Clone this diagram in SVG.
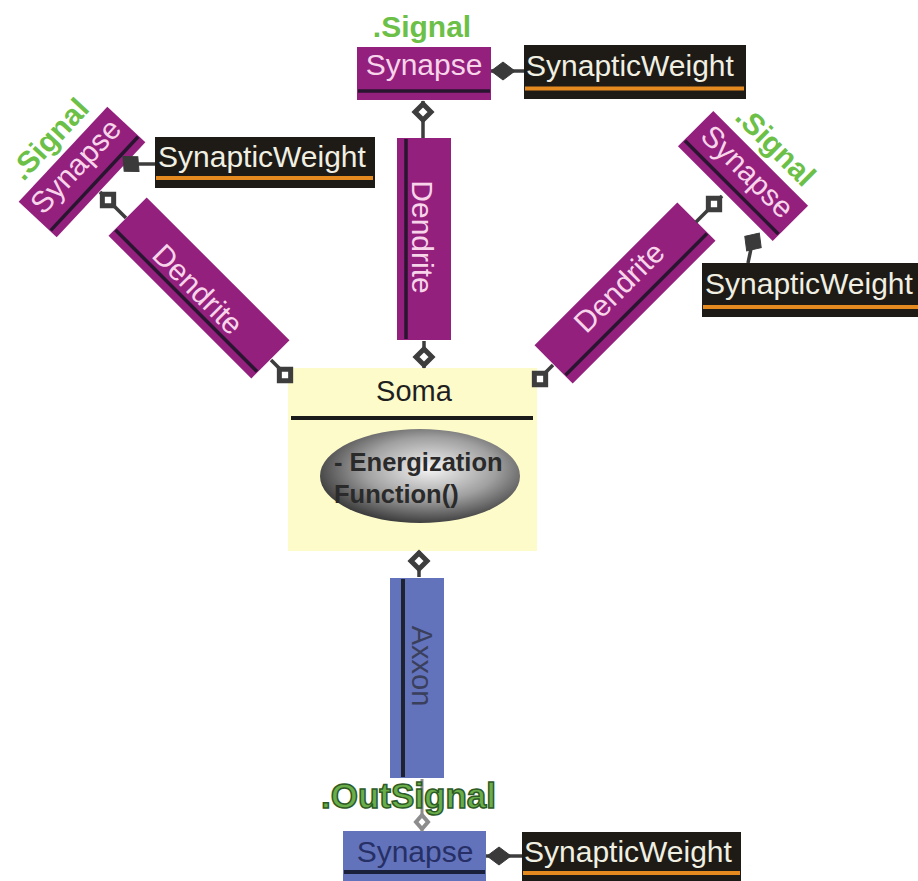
<svg xmlns="http://www.w3.org/2000/svg" xmlns:xlink="http://www.w3.org/1999/xlink" width="918" height="881" viewBox="0 0 918 881">
  <style>
    text { font-family: "Liberation Sans", Arial, sans-serif; }
    .purple { fill: #93207d; }
    .ptxt { fill: #f7d4ea; font-size: 30px; }
    .pline { stroke: #2a1530; stroke-width: 3.5; }
    .signal { fill: #6cc048; font-size: 30px; font-weight: bold; }
    .wbox { fill: #1e1b16; }
    .wtxt { fill: #f0efe2; font-size: 30px; }
    .orange { stroke: #e58a1f; stroke-width: 4; }
    .blue { fill: #6373bb; }
    .conn { stroke: #3d3d3d; stroke-width: 3.5; fill: none; }
    .hollow { fill: #ffffff; stroke: #3d3d3d; stroke-width: 5; stroke-linejoin: miter; }
    .hollow-grey { fill: #ffffff; stroke: #8c8c8c; stroke-width: 4; }
    .filled { fill: #3a3a3a; stroke: #3a3a3a; stroke-width: 1; }
  </style>
  <defs>
    <radialGradient id="ovalShade" cx="0.55" cy="0.42" r="0.6">
      <stop offset="0" stop-color="#f5f5f5"/>
      <stop offset="0.55" stop-color="#a0a0a0"/>
      <stop offset="1" stop-color="#383838"/>
    </radialGradient>
    <path id="hd" d="M-8,0 L0,-8 L8,0 L0,8 Z"/>
    <path id="fd" d="M-12,0 L0,-9 L12,0 L0,9 Z"/>
    <path id="fsq" d="M-11,0 L0,-10 L11,0 L0,10 Z"/>
  </defs>

  <rect width="918" height="881" fill="#ffffff"/>

  <!-- soma -->
  <g id="soma">
    <rect x="288" y="368" width="249" height="183" fill="#fefbca"/>
    <text x="414" y="401" text-anchor="middle" font-size="29" fill="#1f1f1f">Soma</text>
    <line x1="291" y1="418" x2="533" y2="418" stroke="#1a1a1a" stroke-width="4"/>
    <ellipse cx="420" cy="476" rx="100" ry="47" fill="url(#ovalShade)"/>
    <text x="334" y="471" font-size="25.5" font-weight="bold" fill="#2a2a2a">- Energization</text>
    <text x="334" y="503" font-size="25.5" font-weight="bold" fill="#2a2a2a">Function()</text>
  </g>

  <!-- dendrites -->
  <g id="dendrite-top" transform="translate(424,239) rotate(90)">
    <rect class="purple" x="-101" y="-27" width="202" height="54"/>
    <line class="pline" x1="-100" y1="18" x2="100" y2="18"/>
    <text class="ptxt" x="-2" y="12" text-anchor="middle">Dendrite</text>
  </g>
  <g id="dendrite-left" transform="translate(199,288) rotate(45)">
    <rect class="purple" x="-101" y="-27" width="202" height="54"/>
    <line class="pline" x1="-100" y1="18" x2="100" y2="18"/>
    <text class="ptxt" x="0" y="12" text-anchor="middle">Dendrite</text>
  </g>
  <g id="dendrite-right" transform="translate(625,293) rotate(-45)">
    <rect class="purple" x="-101" y="-27" width="202" height="54"/>
    <line class="pline" x1="-100" y1="16" x2="100" y2="16"/>
    <text class="ptxt" x="0" y="2" text-anchor="middle">Dendrite</text>
  </g>

  <!-- synapses on the dendrites -->
  <g id="synapse-top" transform="translate(424,73.5)">
    <rect class="purple" x="-67" y="-26.5" width="134" height="53"/>
    <line class="pline" x1="-66" y1="17.5" x2="66" y2="17.5"/>
    <text class="ptxt" x="0" y="1.5" text-anchor="middle">Synapse</text>
    <text class="signal" x="-2" y="-36.5" text-anchor="middle">.Signal</text>
  </g>
  <g id="synapse-left" transform="translate(82,172) rotate(-47)">
    <rect class="purple" x="-65" y="-26" width="130" height="52"/>
    <line class="pline" x1="-64" y1="17" x2="64" y2="17"/>
    <text class="ptxt" x="0" y="1.5" text-anchor="middle">Synapse</text>
    <text class="signal" x="2" y="-36" text-anchor="middle">.Signal</text>
  </g>
  <g id="synapse-right" transform="translate(743,176) rotate(45)">
    <rect class="purple" x="-67" y="-25" width="134" height="50"/>
    <line class="pline" x1="-66" y1="16" x2="66" y2="16"/>
    <text class="ptxt" x="0" y="4" text-anchor="middle">Synapse</text>
    <text class="signal" x="2" y="-34" text-anchor="middle">.Signal</text>
  </g>

  <!-- synaptic weights -->
  <g id="weight-top">
    <rect class="wbox" x="524" y="45" width="222" height="54"/>
    <text class="wtxt" x="526" y="76">SynapticWeight</text>
    <line class="orange" x1="525" y1="88.5" x2="744" y2="88.5"/>
  </g>
  <g id="weight-left">
    <rect class="wbox" x="155" y="137" width="220" height="51"/>
    <text class="wtxt" x="158" y="167">SynapticWeight</text>
    <line class="orange" x1="156" y1="178" x2="373" y2="178"/>
  </g>
  <g id="weight-right">
    <rect class="wbox" x="702" y="263" width="222" height="54"/>
    <text class="wtxt" x="705" y="294">SynapticWeight</text>
    <line class="orange" x1="703" y1="307" x2="918" y2="307"/>
  </g>

  <!-- axon and output synapse -->
  <g id="axon" transform="translate(417,678) rotate(90)">
    <rect class="blue" x="-100" y="-27" width="200" height="54"/>
    <line x1="-99" y1="14" x2="99" y2="14" stroke="#1f2230" stroke-width="4"/>
    <text x="-12" y="5" text-anchor="middle" font-size="29" fill="#3a3f5c">Axxon</text>
  </g>
  <g id="synapse-out">
    <rect class="blue" x="343" y="831" width="143" height="55"/>
    <text x="415" y="862" text-anchor="middle" font-size="30" fill="#263066">Synapse</text>
    <line x1="344" y1="872" x2="485" y2="872" stroke="#1a1f3a" stroke-width="4"/>
  </g>
  <g id="weight-out">
    <rect class="wbox" x="522" y="832" width="219" height="55"/>
    <text class="wtxt" x="524" y="862">SynapticWeight</text>
    <line class="orange" x1="523" y1="873" x2="740" y2="873"/>
  </g>

  <!-- connectors: aggregation (hollow) and composition (filled) diamonds -->
  <g id="connectors">
    <line class="conn" x1="423" y1="101" x2="423" y2="138"/>
    <use href="#hd" class="hollow" transform="translate(423,112) rotate(90)"/>

    <line class="conn" x1="424" y1="341" x2="424" y2="368"/>
    <use href="#hd" class="hollow" transform="translate(424,357) rotate(90)"/>

    <line class="conn" x1="491" y1="71" x2="524" y2="71"/>
    <use href="#fd" class="filled" transform="translate(503,71)"/>

    <line class="conn" x1="131" y1="164" x2="155" y2="164"/>
    <use href="#fsq" class="filled" transform="translate(131,164) rotate(43)"/>

    <line class="conn" x1="100" y1="192" x2="126" y2="218"/>
    <use href="#hd" class="hollow" transform="translate(108,200) rotate(45)"/>

    <line class="conn" x1="271" y1="360" x2="288" y2="377"/>
    <use href="#hd" class="hollow" transform="translate(285,375) rotate(45)"/>

    <line class="conn" x1="553" y1="365" x2="536" y2="382"/>
    <use href="#hd" class="hollow" transform="translate(540,379) rotate(-45)"/>

    <line class="conn" x1="696" y1="222" x2="722" y2="196"/>
    <use href="#hd" class="hollow" transform="translate(714,204) rotate(-45)"/>

    <line class="conn" x1="752" y1="244" x2="748" y2="263"/>
    <use href="#fsq" class="filled" transform="translate(753,242) rotate(125)"/>

    <line class="conn" x1="419" y1="551" x2="419" y2="577"/>
    <use href="#hd" class="hollow" transform="translate(419,561) rotate(90)"/>

    <line x1="422" y1="779" x2="422" y2="831" stroke="#8c8c8c" stroke-width="3"/>
    <path d="M422,815 L428,822 L422,829 L416,822 Z" class="hollow-grey"/>

    <line class="conn" x1="486" y1="856" x2="522" y2="856"/>
    <use href="#fd" class="filled" transform="translate(499,856)"/>
  </g>

  <text id="out-signal" x="321" y="808" font-size="35" font-weight="bold" fill="#6aae4a" stroke="#2d5a25" stroke-width="1.5">.OutSignal</text>
</svg>
